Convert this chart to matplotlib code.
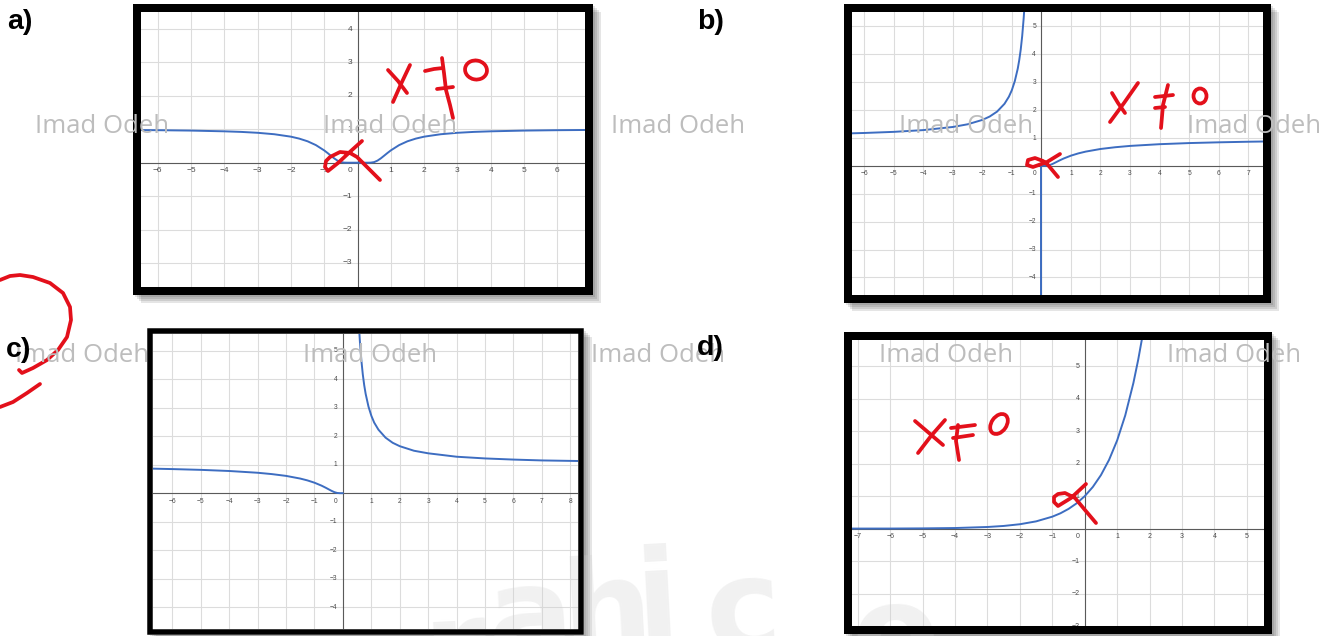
import matplotlib
matplotlib.use("Agg")
import matplotlib.pyplot as plt
from matplotlib.patches import Rectangle, Ellipse

W, H = 1329, 636

# ---- sampled curve values (x, y) for each panel ----
a_x = [-6.5, -6, -5, -4, -3.5, -3, -2.5, -2, -1.75, -1.5, -1.25, -1, -0.9, -0.8,
       -0.7, -0.6, -0.5, -0.4, -0.3, 0, 0.3, 0.4, 0.5, 0.6, 0.7, 0.8, 0.9, 1,
       1.25, 1.5, 1.75, 2, 2.5, 3, 3.5, 4, 5, 6, 6.83]
a_y = [0.977, 0.973, 0.961, 0.939, 0.922, 0.895, 0.852, 0.779, 0.721, 0.641,
       0.527, 0.368, 0.291, 0.210, 0.130, 0.062, 0.018, 0.002, 0.0, 0.0, 0.0,
       0.002, 0.018, 0.062, 0.130, 0.210, 0.291, 0.368, 0.527, 0.641, 0.721,
       0.779, 0.852, 0.895, 0.922, 0.939, 0.961, 0.973, 0.979]

b_left_x = [-6.41, -6, -5, -4, -3, -2.5, -2, -1.75, -1.5, -1.25, -1.1, -1, -0.9,
            -0.8, -0.75, -0.7, -0.65, -0.6, -0.58]
b_left_y = [1.169, 1.181, 1.221, 1.284, 1.396, 1.492, 1.649, 1.771, 1.948, 2.226,
            2.482, 2.718, 3.041, 3.490, 3.794, 4.170, 4.658, 5.294, 5.60]
b_right_x = [0, 0.1, 0.2, 0.3, 0.4, 0.5, 0.6, 0.75, 1, 1.25, 1.5, 2, 2.5, 3, 4,
             5, 6, 7, 7.5]
b_right_y = [0, 0.0, 0.007, 0.036, 0.082, 0.135, 0.189, 0.264, 0.368, 0.449,
             0.513, 0.607, 0.670, 0.717, 0.779, 0.819, 0.846, 0.867, 0.875]
b_drop_x = [0, 0]
b_drop_y = [0, -4.63]

c_left_x = [-6.68, -6, -5, -4, -3, -2.5, -2, -1.5, -1.25, -1, -0.75, -0.6, -0.5,
            -0.4, -0.3, -0.2, -0.1, 0]
c_left_y = [0.861, 0.846, 0.819, 0.779, 0.717, 0.670, 0.607, 0.513, 0.449, 0.368,
            0.264, 0.189, 0.135, 0.082, 0.036, 0.007, 0.0, 0.0]
c_right_x = [0.57, 0.6, 0.65, 0.7, 0.75, 0.8, 0.9, 1, 1.1, 1.25, 1.5, 1.75, 2,
             2.5, 3, 4, 5, 6, 7, 8.27]
c_right_y = [5.78, 5.29, 4.66, 4.17, 3.79, 3.49, 3.04, 2.72, 2.48, 2.23, 1.95,
             1.77, 1.65, 1.49, 1.40, 1.28, 1.22, 1.18, 1.15, 1.13]

d_x = [-7.18, -6, -5, -4, -3, -2.5, -2, -1.5, -1, -0.75, -0.5, -0.25, 0, 0.25,
       0.5, 0.75, 1, 1.25, 1.5, 1.65, 1.77]
d_y = [0.001, 0.002, 0.007, 0.018, 0.050, 0.082, 0.135, 0.223, 0.368, 0.472,
       0.607, 0.779, 1.0, 1.284, 1.649, 2.117, 2.718, 3.490, 4.482, 5.207, 5.87]

# panel layout: inner plot box, frame width (px), view window, tick label size
panels = {
    "a": dict(box=(141, 12, 585, 287), frame=8, xlim=(-6.5, 6.83), ylim=(-3.72, 4.51), fs=6.0),
    "b": dict(box=(852, 12, 1263, 295), frame=8, xlim=(-6.41, 7.5), ylim=(-4.63, 5.52), fs=4.8),
    "c": dict(box=(153, 334, 578, 629), frame=5.5, xlim=(-6.68, 8.27), ylim=(-4.77, 5.59), fs=4.8),
    "d": dict(box=(852, 340, 1264, 626), frame=8, xlim=(-7.18, 5.53), ylim=(-3.0, 5.81), fs=5.0),
}
panel_labels = [("a)", 7, 29), ("b)", 697, 29), ("c)", 6, 357), ("d)", 697, 355)]

BLUE = "#3d6dc1"
RED = "#e3101b"
TICK_FONT = "Liberation Sans"


def fmt(v):
    return f"\u2212{abs(v)}" if v < 0 else str(v)


def draw_grid(ax, xlim, ylim, fs):
    ax.set_xlim(*xlim)
    ax.set_ylim(*ylim)
    xs = list(range(int(xlim[0]) - 1, int(xlim[1]) + 2))
    ys = list(range(int(ylim[0]) - 1, int(ylim[1]) + 2))
    for x in xs:
        ax.axvline(x, color="#dcdcdc", lw=0.8, zorder=0)
    for y in ys:
        ax.axhline(y, color="#dcdcdc", lw=0.8, zorder=0)
    ax.axhline(0, color="#5a5a5a", lw=0.8, zorder=1)
    ax.axvline(0, color="#5a5a5a", lw=0.8, zorder=1)
    ax.set_xticks([])
    ax.set_yticks([])
    for s in ax.spines.values():
        s.set_visible(False)
    kw = dict(fontsize=fs, color="#4a4a4a", family=TICK_FONT,
              textcoords="offset points", annotation_clip=False, clip_on=True)
    for x in xs:
        if x == 0 or not (xlim[0] < x < xlim[1]):
            continue
        ax.annotate(fmt(x), (x, 0), xytext=(0, -3.2), ha="center", va="top", **kw)
    for y in ys:
        if y == 0 or not (ylim[0] <= y < ylim[1]):
            continue
        ax.annotate(fmt(y), (0, y), xytext=(-3.8, 0), ha="right", va="center", **kw)
    ax.annotate("0", (0, 0), xytext=(-3.8, -3.2), ha="right", va="top", **kw)


fig = plt.figure(figsize=(W / 100, H / 100), dpi=100)

# background layer: drop shadows
bg = fig.add_axes([0, 0, 1, 1], zorder=0)
bg.set_xlim(0, W)
bg.set_ylim(H, 0)
bg.axis("off")

axes = {}
for key, p in panels.items():
    x0, y0, x1, y1 = p["box"]
    f = p["frame"]
    for off in [2, 4, 6, 8]:
        bg.add_patch(Rectangle((x0 - f + off, y0 - f + off), x1 - x0 + 2 * f,
                               y1 - y0 + 2 * f, facecolor="black",
                               alpha=0.10, lw=0))
    bg.add_patch(Rectangle((x0 - f, y0 - f), x1 - x0 + 2 * f, y1 - y0 + 2 * f,
                           facecolor="white", lw=0))
    ax = fig.add_axes([x0 / W, 1 - y1 / H, (x1 - x0) / W, (y1 - y0) / H], zorder=1)
    draw_grid(ax, p["xlim"], p["ylim"], p["fs"])
    axes[key] = ax

curve = dict(color=BLUE, lw=1.4, zorder=3, solid_capstyle="round")
axes["a"].plot(a_x, a_y, **curve)
axes["b"].plot(b_left_x, b_left_y, **curve)
axes["b"].plot(b_right_x, b_right_y, **curve)
axes["b"].plot(b_drop_x, b_drop_y, **curve)
axes["c"].plot(c_left_x, c_left_y, **curve)
axes["c"].plot(c_right_x, c_right_y, **curve)
axes["d"].plot(d_x, d_y, **curve)

# faint large lettering behind the frames
mid = fig.add_axes([0, 0, 1, 1], zorder=2)
mid.set_xlim(0, W)
mid.set_ylim(H, 0)
mid.axis("off")
for ch, x, y in [("r", 420, 692), ("a", 484, 660), ("h", 558, 654), ("i", 632, 642),
                 ("c", 702, 652), ("o", 848, 678)]:
    mid.text(x, y, ch, fontsize=92, fontweight="bold", color="#cfcfcf",
             alpha=0.28, family="DejaVu Sans", ha="left", va="baseline",
             rotation=3)

# frames
fr = fig.add_axes([0, 0, 1, 1], zorder=3)
fr.set_xlim(0, W)
fr.set_ylim(H, 0)
fr.axis("off")
fr.patch.set_alpha(0)
for key, p in panels.items():
    x0, y0, x1, y1 = p["box"]
    f = p["frame"]
    fr.add_patch(Rectangle((x0 - f / 2, y0 - f / 2), x1 - x0 + f, y1 - y0 + f,
                           fill=False, edgecolor="black", lw=f * 0.72,
                           joinstyle="miter"))

# foreground: name stamps, handwriting, panel letters
fg = fig.add_axes([0, 0, 1, 1], zorder=4)
fg.set_xlim(0, W)
fg.set_ylim(H, 0)
fg.axis("off")
fg.patch.set_alpha(0)

for row_x, row_y in [(35, 133), (15, 362)]:
    for k in range(5):
        fg.text(row_x + 288 * k, row_y, "Imad Odeh", fontsize=18.5,
                family="Open Sans", color="#bdbdbd", ha="left", va="baseline")

ink_strokes = [
    # a)
    [(388, 70), (398, 81), (407, 93)],
    [(410, 65), (401, 84), (393, 102)],
    [(425, 71), (434, 69), (443, 68)],
    [(442, 58), (444, 73), (446, 90), (450, 105), (453, 118)],
    [(437, 89), (453, 87)],
    [(362, 141), (352, 150), (338, 163), (328, 171), (325, 167), (326, 161),
     (330, 157), (340, 152), (350, 153), (357, 157), (363, 163), (372, 172), (380, 180)],
    # b)
    [(1138, 83), (1124, 103), (1110, 122)],
    [(1112, 93), (1118, 103), (1125, 113)],
    [(1155, 97), (1173, 95)],
    [(1168, 85), (1163, 105), (1161, 128)],
    [(1155, 108), (1165, 107)],
    [(1060, 154), (1047, 162), (1033, 167), (1027, 165), (1028, 160), (1035, 158),
     (1043, 161), (1048, 165), (1058, 177)],
    # c)
    [(0, 280), (10, 276), (20, 275), (33, 277), (50, 283), (63, 293), (70, 307),
     (71, 320), (67, 337), (58, 350), (47, 360), (33, 368), (22, 373), (19, 370)],
    [(40, 384), (27, 393), (13, 402), (0, 407)],
    # d)
    [(915, 421), (929, 433), (943, 445)],
    [(945, 420), (931, 436), (918, 453)],
    [(951, 428), (975, 425)],
    [(958, 425), (956, 441), (959, 460)],
    [(953, 438), (973, 435)],
    [(1086, 484), (1071, 498), (1058, 506), (1054, 502), (1054, 497), (1058, 494),
     (1065, 493), (1075, 498), (1085, 510), (1096, 523)],
]
for stroke in ink_strokes:
    xs, ys = zip(*stroke)
    fg.plot(xs, ys, color=RED, lw=2.7, solid_capstyle="round",
            solid_joinstyle="round")

for cx, cy, w, h, ang in [(476, 70, 22, 19, 10), (1200, 96, 13, 15, 0),
                          (999, 424, 15, 22, 35)]:
    fg.add_patch(Ellipse((cx, cy), w, h, angle=ang, fill=False,
                         edgecolor=RED, lw=2.7))

for txt, x, y in panel_labels:
    fg.text(x, y, txt, fontsize=20.5, fontweight="bold", family="Liberation Sans",
            color="black", ha="left", va="baseline")

fig.savefig("out.png", dpi=100)
